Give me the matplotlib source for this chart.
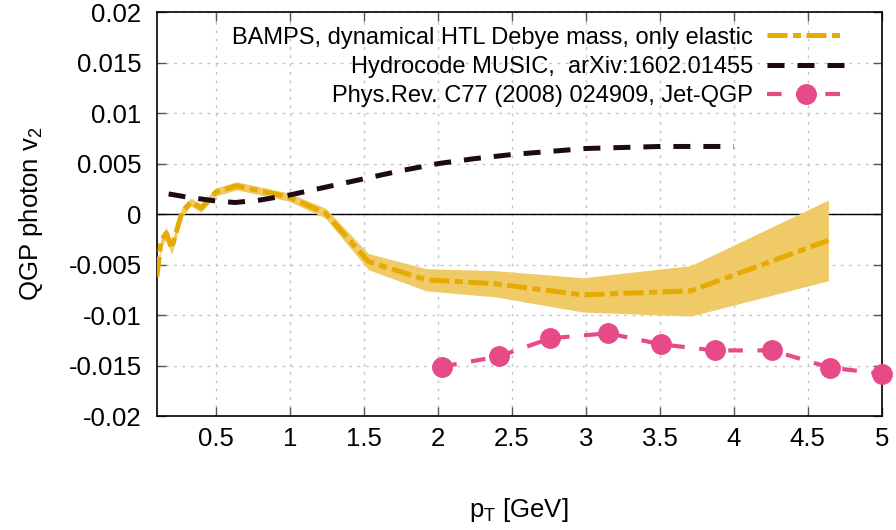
import numpy as np
import matplotlib
matplotlib.use("Agg")
import matplotlib.pyplot as plt

plt.rcParams['font.family'] = ['Liberation Sans', 'DejaVu Sans']
plt.rcParams['mathtext.fontset'] = 'custom'
plt.rcParams['mathtext.rm'] = 'Liberation Sans'
plt.rcParams['mathtext.it'] = 'Liberation Sans'

# BAMPS, dynamical HTL Debye mass, only elastic
bamps_pt = [0.1, 0.13, 0.165, 0.2, 0.27, 0.33, 0.4, 0.5, 0.64, 0.99, 1.24,
            1.53, 1.92, 2.39, 2.98, 3.71, 4.64]
bamps_v2 = [-0.0062, -0.0026, -0.0019, -0.0034, 0.0002, 0.0012, 0.0006, 0.0022,
            0.0028, 0.0017, 0.0001, -0.0047, -0.0065, -0.0069, -0.0080, -0.0076,
            -0.0026]
bamps_err = [0.0005, 0.0006, 0.0006, 0.0006, 0.0005, 0.0004, 0.0004, 0.0004,
             0.0004, 0.0004, 0.0005, 0.0008, 0.0011, 0.0013, 0.0017, 0.0025,
             0.0040]

# Hydrocode MUSIC
hydro_pt = [0.18, 0.3, 0.5, 0.63, 0.8, 1.0, 1.25, 1.5, 1.75, 2.0, 2.25, 2.5,
            2.75, 3.0, 3.25, 3.5, 3.75, 4.0]
hydro_v2 = [0.0020, 0.0017, 0.0013, 0.00115, 0.0014, 0.0019, 0.0027, 0.0035,
            0.0043, 0.0050, 0.0055, 0.0059, 0.0062, 0.0065, 0.0066, 0.0067,
            0.0067, 0.0067]

# Phys.Rev. C77 (2008) 024909, Jet-QGP
jet_pt = [2.03, 2.41, 2.76, 3.15, 3.51, 3.87, 4.26, 4.65, 5.0]
jet_v2 = [-0.0151, -0.0141, -0.0123, -0.0118, -0.0129, -0.0135, -0.0135,
          -0.0152, -0.0158]

yellow = '#e5ab00'
band = '#efca66'
dark = '#1e0a12'
pink = '#e64a87'

fig = plt.figure(figsize=(8.96, 5.30), dpi=100)
ax = fig.add_axes([0.175, 0.215, 0.809, 0.762])

lo = np.array(bamps_v2) - np.array(bamps_err)
hi = np.array(bamps_v2) + np.array(bamps_err)
ax.fill_between(bamps_pt, lo, hi, color=band, lw=0, zorder=2)
ax.plot(bamps_pt, bamps_v2, color=yellow, lw=3.6, dashes=(4, 1.1, 1.6, 1.1),
        label='BAMPS, dynamical HTL Debye mass, only elastic', zorder=3)
ax.plot(hydro_pt, hydro_v2, color=dark, lw=3.6, dashes=(3.4, 2.6),
        label='Hydrocode MUSIC,  arXiv:1602.01455', zorder=3)
ax.plot(jet_pt, jet_v2, color=pink, lw=3, dashes=(3.5, 3.5), marker='o',
        markersize=14, label='Phys.Rev. C77 (2008) 024909, Jet-QGP',
        zorder=4, clip_on=False)

ax.axhline(0, color='black', lw=1, zorder=1)

ax.set_xlim(0.1, 5)
ax.set_ylim(-0.02, 0.02)
ax.set_xticks([0.5, 1, 1.5, 2, 2.5, 3, 3.5, 4, 4.5, 5])
ax.set_xticklabels(['0.5', '1', '1.5', '2', '2.5', '3', '3.5', '4', '4.5', '5'])
ax.set_yticks([-0.02, -0.015, -0.01, -0.005, 0, 0.005, 0.01, 0.015, 0.02])
ax.set_yticklabels(['-0.02', '-0.015', '-0.01', '-0.005', '0', '0.005',
                    '0.01', '0.015', '0.02'])
ax.tick_params(direction='in', length=6.5, width=1, top=True, right=True,
               labelsize=18.5, color='#555555')
ax.tick_params(axis='x', pad=8)
ax.tick_params(axis='y', pad=11)
ax.grid(True, color='#c4c4c4', lw=1, linestyle=(0, (2, 4)))
ax.set_axisbelow(True)
for s in ax.spines.values():
    s.set_linewidth(1.2)

ax.set_xlabel(r'p$_\mathregular{T}$ [GeV]', fontsize=18.5, labelpad=32)
ax.set_ylabel(r'QGP photon v$_\mathregular{2}$', fontsize=18.5, labelpad=17)

ax.legend(loc='upper right', frameon=False, markerfirst=False, fontsize=17,
          handlelength=3.3, labelspacing=0.3, borderaxespad=0.3,
          handletextpad=0.6, bbox_to_anchor=(0.972, 1.005))

fig.savefig('out.png', dpi=100)
